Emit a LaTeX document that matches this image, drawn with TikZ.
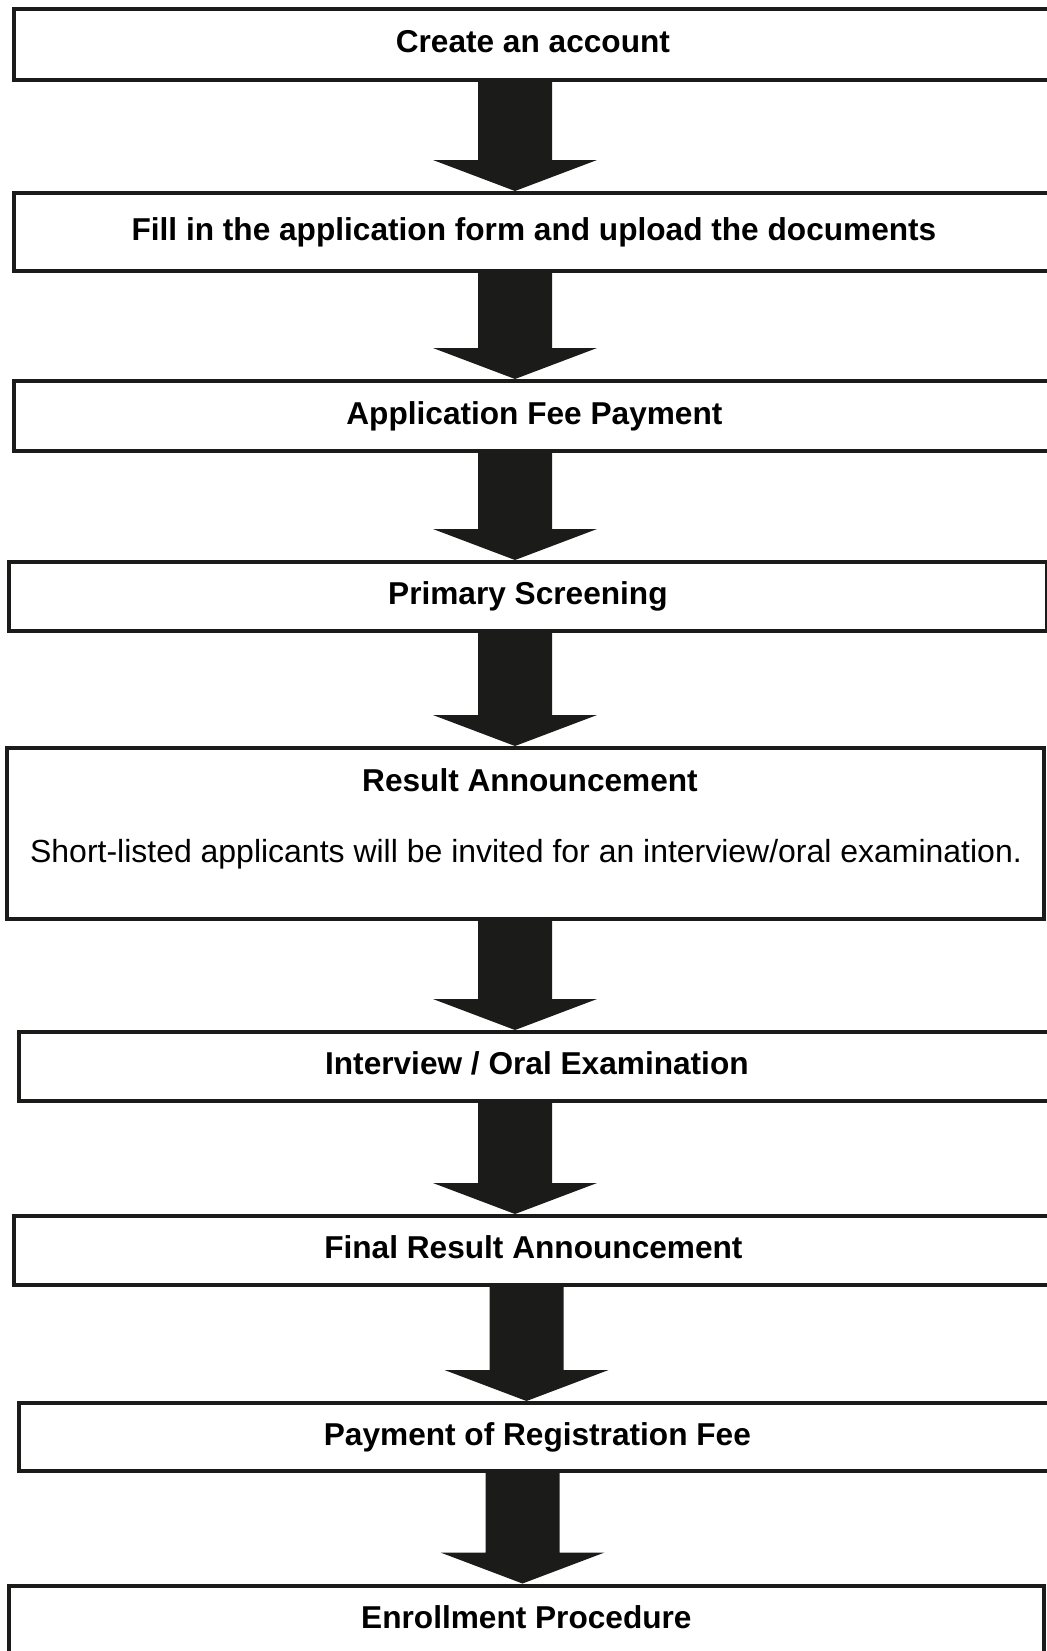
\documentclass[tikz,border=0pt]{standalone}
\usepackage{fontspec}
\setmainfont{Liberation Sans}
\usetikzlibrary{calc}

\definecolor{boxline}{RGB}{27,28,25}

% box of one step, the text sits a little below the middle
\tikzset{
  stepbox/.style={draw=boxline, line width=0.08cm, anchor=west, inner sep=0pt,
    font=\fontsize{18}{21.6}\selectfont\bfseries, text height=9.3pt, text depth=0pt},
  steptext/.style={inner sep=0pt, text height=1.38ex, text depth=0pt,
    font=\fontsize{18.2}{21.8}\selectfont},
  arrowfill/.style={fill=boxline}
}

% block arrow from the bottom of #1 to the top of #2, shaft centred at x=#3
\newcommand{\flowarrow}[3]{%
  \fill[arrowfill] ($(#1.south -| #3,0)+(-37,0)$) -- ($(#1.south -| #3,0)+(37,0)$)
    -- ($(#2.north -| #3,0)+(37,-31)$) -- ($(#2.north -| #3,0)+(82,-31)$)
    -- (#2.north -| #3,0) -- ($(#2.north -| #3,0)+(-82,-31)$)
    -- ($(#2.north -| #3,0)+(-37,-31)$) -- cycle;}

\begin{document}
\begin{tikzpicture}[x=0.02cm, y=-0.02cm]
        \useasboundingbox (0,0) rectangle (1047,1651);
        \clip (0,0) rectangle (1047,1651);

        % Steps
        \node[stepbox, minimum width=20.76cm, minimum height=1.42cm] (acct) at (12,44.5) {Create an account};
        \node[stepbox, minimum width=20.80cm, minimum height=1.56cm] (form) at (12,232) {Fill in the application form and upload the documents};
        \node[stepbox, minimum width=20.82cm, minimum height=1.40cm] (feepay) at (12,416) {Application Fee Payment};
        \node[stepbox, minimum width=20.76cm, minimum height=1.38cm] (screen) at (7,596.5) {Primary Screening};

        % Result box with two lines of text
        \node[stepbox, minimum width=20.74cm, minimum height=3.42cm] (resbox) at (5,833.5) {};
        \node[steptext, font=\fontsize{18}{21.6}\selectfont\bfseries] (restitle) at (530,785.5) {Result Announcement};
        \node[steptext] (resnote) at (526,856) {Short-listed applicants will be invited for an interview/oral examination.};

        \node[stepbox, minimum width=20.72cm, minimum height=1.38cm] (interview) at (17,1066.5) {Interview / Oral Examination};
        \node[stepbox, minimum width=20.78cm, minimum height=1.38cm] (finalres) at (12,1250.5) {Final Result Announcement};
        \node[stepbox, minimum width=20.74cm, minimum height=1.36cm] (regfee) at (17,1437) {Payment of Registration Fee};
        \node[stepbox, minimum width=20.70cm, minimum height=1.38cm] (enroll) at (7,1620) {Enrollment Procedure};

        % Arrows between the steps
        \flowarrow{acct}{form}{515}
        \flowarrow{form}{feepay}{515}
        \flowarrow{feepay}{screen}{515}
        \flowarrow{screen}{resbox}{515}
        \flowarrow{resbox}{interview}{515}
        \flowarrow{interview}{finalres}{515}
        \flowarrow{finalres}{regfee}{526.5}
        \flowarrow{regfee}{enroll}{522.5}
    \end{tikzpicture}
\end{document}
